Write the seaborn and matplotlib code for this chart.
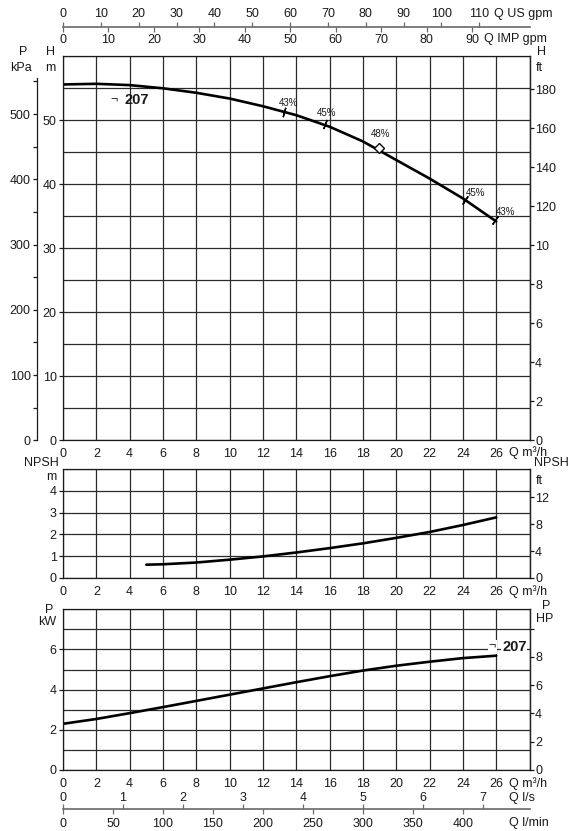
import numpy as np
import pandas as pd
import matplotlib
matplotlib.use("Agg")
import matplotlib.pyplot as plt
import seaborn as sns

# ---------------- data ----------------
q_head = [0, 2, 4, 6, 8, 10, 12, 14, 16, 18, 20, 22, 24, 26]
head_m = [55.6, 55.7, 55.5, 55.0, 54.3, 53.4, 52.2, 50.8, 49.0, 46.7, 43.8, 40.9, 37.8, 34.2]

eff_q = [13.29, 15.73, 18.94, 24.14, 25.9]
eff_h = [51.25, 49.42, 45.63, 37.55, 34.35]
eff_labels = ["43%", "45%", "48%", "45%", "43%"]

q_npsh = [5, 6, 8, 10, 12, 14, 16, 18, 20, 22, 24, 26]
npsh_m = [0.61, 0.63, 0.71, 0.84, 0.99, 1.17, 1.37, 1.59, 1.84, 2.11, 2.43, 2.78]

q_power = [0, 2, 4, 6, 8, 10, 12, 14, 16, 18, 20, 22, 24, 26]
power_kw = [2.30, 2.54, 2.83, 3.13, 3.44, 3.75, 4.06, 4.37, 4.67, 4.95, 5.19, 5.39, 5.57, 5.69]

curve_name = "207"

q_ticks = list(range(0, 29, 2))
q_ticklabels = [str(v) for v in range(0, 27, 2)] + [""]
h_ticks = [0, 10, 20, 30, 40, 50]
kpa_ticks = [0, 100, 200, 300, 400, 500]
ft_ticks = [0, 20, 40, 60, 80, 100, 120, 140, 160, 180]
ft_ticklabels = ["0", "2", "4", "6", "8", "10", "120", "140", "160", "180"]
npsh_ticks = [0, 1, 2, 3, 4]
npsh_ft_ticks = [0, 4, 8, 12]
p_ticks = [0, 2, 4, 6]
hp_ticks = [0, 2, 4, 6, 8, 10]
hp_ticklabels = ["0", "2", "4", "6", "8", ""]
usgpm_ticks = list(range(0, 111, 10))
impgpm_ticks = list(range(0, 91, 10))
ls_ticks = list(range(0, 8))
lmin_ticks = list(range(0, 401, 50))

# ---------------- style ----------------
sns.set_style("ticks")
plt.rcParams["font.family"] = ["Liberation Sans", "DejaVu Sans"]
plt.rcParams["font.size"] = 9
plt.rcParams["axes.linewidth"] = 0.9

W, H = 571, 831
fig = plt.figure(figsize=(W / 100, H / 100), dpi=100)

X0, X1 = 63, 529.5
INK = "#1a1a1a"
GRID = "#2b2b2b"


def rect(top, bottom):
    return [X0 / W, 1 - bottom / H, (X1 - X0) / W, (bottom - top) / H]


def ftext(x, y, s, **kw):
    kw.setdefault("ha", "center")
    kw.setdefault("va", "center")
    kw.setdefault("color", INK)
    fig.text(x / W, 1 - y / H, s, **kw)


def base_axes(ax, ymax, yminor_step):
    ax.set_xlim(0, 28)
    ax.set_ylim(0, ymax)
    ax.set_xticks(q_ticks)
    ax.set_xticklabels(q_ticklabels)
    ax.set_yticks(np.arange(0, ymax + 0.001, yminor_step), minor=True)
    ax.grid(True, which="both", color=GRID, lw=0.9)
    ax.set_axisbelow(True)
    ax.tick_params(axis="x", length=0, pad=5.5, labelsize=9, colors=INK)
    ax.tick_params(axis="y", which="major", length=3, width=0.9, pad=1.5, labelsize=9, colors=INK)
    ax.tick_params(axis="y", which="minor", length=0)
    for s in ax.spines.values():
        s.set_visible(True)
        s.set_color(INK)
    ax.set_xlabel("")
    ax.set_ylabel("")


# ---------------- head ----------------
axH = fig.add_axes(rect(56.3, 440.3))
df_h = pd.DataFrame({"Q": q_head, "H": head_m})
sns.lineplot(data=df_h, x="Q", y="H", ax=axH, color="black", lw=1.9, legend=False)
base_axes(axH, 60, 5)
axH.set_yticks(h_ticks)

# kPa axis
axK = axH.twinx()
axK.set_ylim(0, 60 * 9.81)
axK.yaxis.set_ticks_position("left")
axK.yaxis.set_label_position("left")
axK.spines["left"].set_position(("outward", 26 * 0.72))
axK.spines["left"].set_bounds(0, 556)
for k in ("right", "top", "bottom"):
    axK.spines[k].set_visible(False)
axK.spines["left"].set_color(INK)
axK.set_yticks(kpa_ticks)
axK.set_yticks([50, 150, 250, 350, 450, 550], minor=True)
axK.tick_params(axis="y", which="both", length=3, width=0.9, pad=1.5, labelsize=9, colors=INK)

# ft axis
axF = axH.twinx()
axF.set_ylim(0, 60 / 0.3048)
axF.set_yticks(ft_ticks)
axF.set_yticklabels(ft_ticklabels)
axF.tick_params(axis="y", length=3, width=0.9, pad=1, labelsize=9, colors=INK)
for k in ("left", "top", "bottom"):
    axF.spines[k].set_visible(False)
axH.yaxis.set_ticks_position("left")

# efficiency marks
xs = np.array(q_head, float)
hs = np.array(head_m, float)
fig.canvas.draw()
offsets = [(4, 9), (1, 11), (2, 14), (10, 7), (11, 8)]
for i, (qx, hy, lab) in enumerate(zip(eff_q, eff_h, eff_labels)):
    slope = np.interp(qx, (xs[1:] + xs[:-1]) / 2, np.diff(hs) / np.diff(xs))
    p0 = axH.transData.transform((qx, hy))
    p1 = axH.transData.transform((qx + 1, hy + slope))
    ang = np.degrees(np.arctan2(p1[1] - p0[1], p1[0] - p0[0])) + 90
    if lab == "48%":
        axH.plot([qx], [hy], marker="D", ms=5.5, mfc="white", mec="black", mew=1.0, zorder=5)
    else:
        axH.plot([qx], [hy], marker=(2, 2, ang - 90), ms=7, mec="black", mew=1.0, zorder=5)
    dx, dy = offsets[i]
    axH.annotate(lab, (qx, hy), xytext=(dx * 0.72, dy * 0.72), textcoords="offset points",
                 ha="center", va="center", fontsize=7, color=INK)

axH.text((114 - X0) / 16.66, (440.3 - 101) / 6.4, "¬", fontsize=9, ha="center", va="center", color=INK)
axH.text((124 - X0) / 16.66, (440.3 - 100) / 6.4, curve_name, fontsize=10.5, fontweight="bold",
         ha="left", va="center", color=INK)

ftext(23, 52, "P")
ftext(21, 68, "kPa")
ftext(51, 52, "H")
ftext(50, 68, "m")
ftext(541, 52, "H")
ftext(539, 68, "ft")
ftext(509, 453, "Q m³/h", ha="left")

# ---------------- NPSH ----------------
axN = fig.add_axes(rect(469, 578))
df_n = pd.DataFrame({"Q": q_npsh, "NPSH": npsh_m})
sns.lineplot(data=df_n, x="Q", y="NPSH", ax=axN, color="black", lw=1.9, legend=False)
base_axes(axN, 5, 1)
axN.set_yticks(npsh_ticks)
axNF = axN.twinx()
axNF.set_ylim(0, 5 / 0.309)
axNF.set_yticks(npsh_ft_ticks)
axNF.tick_params(axis="y", length=3, width=0.9, pad=1, labelsize=9, colors=INK)
for k in ("left", "top", "bottom"):
    axNF.spines[k].set_visible(False)
ftext(41, 463, "NPSH")
ftext(51, 477, "m")
ftext(551, 463, "NPSH")
ftext(539, 481, "ft")
ftext(509, 591.5, "Q m³/h", ha="left")

# ---------------- power ----------------
axP = fig.add_axes(rect(609.3, 770))
df_p = pd.DataFrame({"Q": q_power, "P": power_kw})
sns.lineplot(data=df_p, x="Q", y="P", ax=axP, color="black", lw=1.9, legend=False)
base_axes(axP, 8, 1)
axP.set_yticks(p_ticks)
axP.text((492.5 - X0) / 16.66, 6.12, "¬", fontsize=9, ha="center", va="center", color=INK,
         bbox=dict(facecolor="white", edgecolor="none", pad=0.5))
axP.text((502 - X0) / 16.66, 6.12, curve_name, fontsize=10.5, fontweight="bold",
         ha="left", va="center", color=INK,
         bbox=dict(facecolor="white", edgecolor="none", pad=0.5))
axHP = axP.twinx()
axHP.set_ylim(0, 8 / 0.704)
axHP.set_yticks(hp_ticks)
axHP.set_yticklabels(hp_ticklabels)
axHP.tick_params(axis="y", length=3, width=0.9, pad=1, labelsize=9, colors=INK)
for k in ("left", "top", "bottom"):
    axHP.spines[k].set_visible(False)
ftext(49, 610, "P")
ftext(47, 622, "kW")
ftext(546, 606, "P")
ftext(545, 619, "HP")
ftext(509, 784, "Q m³/h", ha="left")

# ---------------- flow unit scales ----------------
LINE = "#6a6a6a"


def flow_axis(y, lim_top, ticks_top, pad_top, lim_bot, ticks_bot, pad_bot):
    a = fig.add_axes([X0 / W, 1 - y / H, (X1 - X0) / W, 0.00001])
    b = a.twiny()
    for ax_ in (a, b):
        ax_.set_facecolor("none")
        for k in ax_.spines:
            ax_.spines[k].set_visible(False)
        ax_.set_yticks([])
    a.spines["bottom"].set_visible(True)
    a.spines["bottom"].set_color(LINE)
    a.spines["bottom"].set_linewidth(1.2)
    # upper scale
    b.set_xlim(0, lim_top)
    b.set_xticks(ticks_top)
    b.xaxis.set_ticks_position("top")
    b.xaxis.set_label_position("top")
    b.tick_params(axis="x", which="both", top=True, bottom=False, labeltop=True, labelbottom=False,
                  direction="out", length=3.5, width=0.9, color=LINE, pad=pad_top,
                  labelsize=9, labelcolor=INK)
    # lower scale
    a.set_xlim(0, lim_bot)
    a.set_xticks(ticks_bot)
    a.tick_params(axis="x", which="both", top=False, bottom=True, labeltop=False, labelbottom=True,
                  direction="out", length=3.5, width=0.9, color=LINE, pad=pad_bot,
                  labelsize=9, labelcolor=INK)
    return a, b


flow_axis(27, 28 * 4.403, usgpm_ticks, 1.2, 28 * 3.666, impgpm_ticks, 1.5)
ftext(494, 14.5, "Q US gpm", ha="left")
ftext(484, 39, "Q IMP gpm", ha="left")

flow_axis(809, 28 / 3.6, ls_ticks, 0.3, 28 / 0.06, lmin_ticks, 3.0)
ftext(509, 798, "Q l/s", ha="left")
ftext(509, 823, "Q l/min", ha="left")

fig.savefig("out.png", dpi=100, facecolor="white")
